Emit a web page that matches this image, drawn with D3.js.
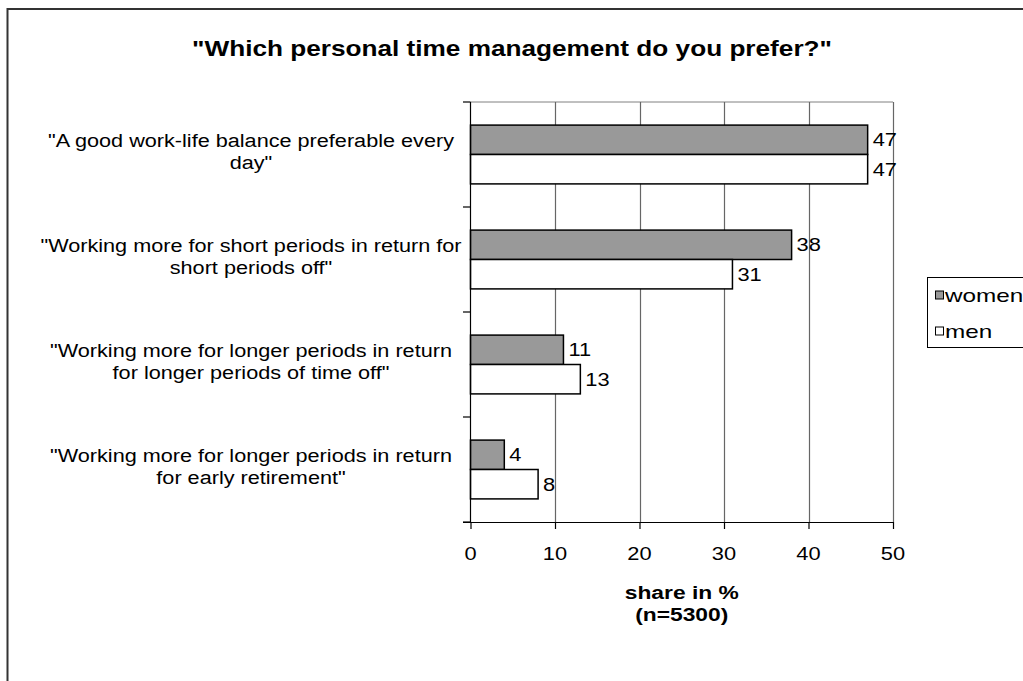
<!DOCTYPE html>
<html>
<head>
<meta charset="utf-8">
<script src="https://cdn.jsdelivr.net/npm/d3@7"></script>
<style>
  html, body { margin: 0; padding: 0; background: #fff; }
  svg { display: block; }
  text { font-family: "Liberation Sans", Arial, sans-serif; fill: #000; }
</style>
</head>
<body>
<svg id="chart" width="1023" height="681"></svg>
<script>
const categories = [
  "\"A good work-life balance preferable every day\"",
  "\"Working more for short periods in return for short periods off\"",
  "\"Working more for longer periods in return for longer periods of time off\"",
  "\"Working more for longer periods in return for early retirement\""
];
const categoryLines = [
  ["\"A good work-life balance preferable every", "day\""],
  ["\"Working more for short periods in return for", "short periods off\""],
  ["\"Working more for longer periods in return", "for longer periods of time off\""],
  ["\"Working more for longer periods in return", "for early retirement\""]
];
const seriesNames = ["women", "men"];
const women = [47, 38, 11, 4];
const men = [47, 31, 13, 8];
const xTicks = [0, 10, 20, 30, 40, 50];
const titleText = "\"Which personal time management do you prefer?\"";
const axisTitleLines = ["share in %", "(n=5300)"];

const colors = { women: "#999999", men: "#ffffff" };
const values = { women, men };

const svg = d3.select("#chart");

// helper: text placed at (x,y), horizontally stretched
function stretchedText(parent, x, y, str, opts) {
  const t = parent.append("text")
    .attr("transform", `translate(${x},${y}) scale(${opts.sx},1)`)
    .attr("text-anchor", opts.anchor || "middle")
    .attr("dy", "0.35em")
    .style("font-size", opts.size + "px")
    .style("font-weight", opts.bold ? "bold" : "normal")
    .text(str);
  return t;
}

// outer chart border
svg.append("rect")
  .attr("x", 7.5).attr("y", 9).attr("width", 1100).attr("height", 800)
  .attr("fill", "#fff").attr("stroke", "#333").attr("stroke-width", 2);

const x = d3.scaleLinear().domain([0, 50]).range([470.5, 893]);
const y = d3.scaleBand().domain(categories).range([102, 522])
  .paddingInner(0.44).paddingOuter(0.22);
const ySub = d3.scaleBand().domain(seriesNames).range([0, y.bandwidth()]);

// title
stretchedText(svg, 512, 48, titleText, { sx: 1.19, size: 22, bold: true });

// plot area top border
svg.append("line")
  .attr("x1", x(0)).attr("x2", x(50)).attr("y1", 102).attr("y2", 102)
  .attr("stroke", "#808080").attr("stroke-width", 1);

// gridlines
svg.append("g").selectAll("line")
  .data(xTicks.filter(d => d > 0))
  .join("line")
  .attr("x1", d => Math.round(x(d)) + 0.5).attr("x2", d => Math.round(x(d)) + 0.5)
  .attr("y1", 102).attr("y2", 522)
  .attr("stroke", "#666").attr("stroke-width", 1.2);

// bars
const groups = svg.append("g").selectAll("g")
  .data(categories)
  .join("g")
  .attr("transform", c => `translate(0,${y(c)})`);

groups.selectAll("rect")
  .data((c, i) => seriesNames.map(s => ({ s, v: values[s][i] })))
  .join("rect")
  .attr("x", x(0))
  .attr("y", d => ySub(d.s))
  .attr("width", d => x(d.v) - x(0))
  .attr("height", ySub.bandwidth())
  .attr("fill", d => colors[d.s])
  .attr("stroke", "#000").attr("stroke-width", 1.5);

groups.each(function (c, i) {
  const g = d3.select(this);
  seriesNames.forEach(s => {
    const v = values[s][i];
    stretchedText(g, x(v) + 5, ySub(s) + ySub.bandwidth() / 2, v,
      { sx: 1.15, size: 19, anchor: "start" });
  });
});

// x axis
const xAxis = svg.append("g")
  .attr("transform", "translate(0,522)")
  .call(d3.axisBottom(x).tickValues(xTicks).tickSize(7).tickFormat(""));
xAxis.select(".domain").attr("stroke", "#000").attr("stroke-width", 1.2)
  .attr("d", `M463,0.5H${x(50)}`);
xAxis.selectAll(".tick line").attr("stroke", "#000").attr("stroke-width", 1.2);
xTicks.forEach(t => {
  stretchedText(svg, x(t), 553, t, { sx: 1.15, size: 19 });
});

// y axis (category boundaries as ticks)
svg.append("line")
  .attr("x1", 470.5).attr("x2", 470.5).attr("y1", 102).attr("y2", 522)
  .attr("stroke", "#000").attr("stroke-width", 1.2);
const bounds = categories.map(c => y(c) - (y.step() - y.bandwidth()) / 2);
bounds.push(y.range()[1]);
svg.append("g").selectAll("line")
  .data(bounds)
  .join("line")
  .attr("x1", 463).attr("x2", 470.5)
  .attr("y1", d => d).attr("y2", d => d)
  .attr("stroke", "#000").attr("stroke-width", 1.2);

// category labels
categories.forEach((c, i) => {
  const lines = categoryLines[i];
  const cy = y(c) + y.bandwidth() / 2 - 3;
  lines.forEach((ln, j) => {
    const off = (j - (lines.length - 1) / 2) * 22.5;
    stretchedText(svg, 251, cy + off, ln, { sx: 1.14, size: 19 });
  });
});

// axis title
axisTitleLines.forEach((ln, i) => {
  stretchedText(svg, (x(0) + x(50)) / 2, 592 + i * 22.5, ln, { sx: 1.2, size: 19, bold: true });
});

// legend
const lg = svg.append("g");
lg.append("rect")
  .attr("x", 927.5).attr("y", 277.5).attr("width", 200).attr("height", 70)
  .attr("fill", "#fff").attr("stroke", "#000").attr("stroke-width", 1);
seriesNames.forEach((s, i) => {
  const cy = 295 + i * 36;
  lg.append("rect")
    .attr("x", 935.5).attr("y", cy - 4).attr("width", 8).attr("height", 8)
    .attr("fill", colors[s]).attr("stroke", "#000").attr("stroke-width", 1);
  stretchedText(lg, 945, cy, s, { sx: 1.28, size: 19, anchor: "start" });
});
</script>
</body>
</html>
